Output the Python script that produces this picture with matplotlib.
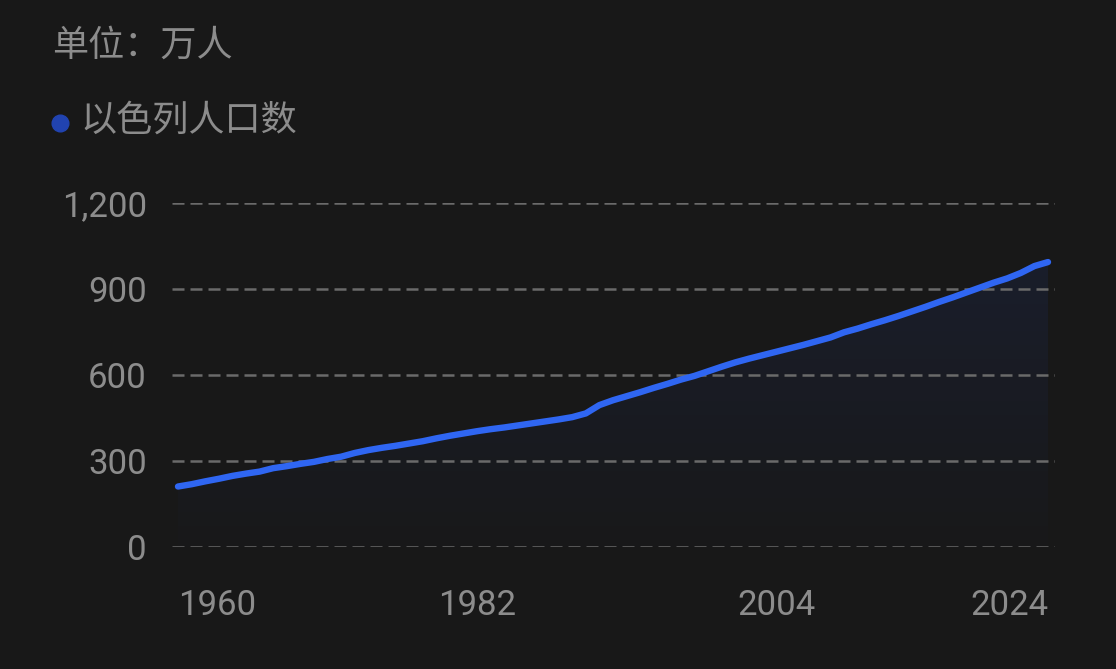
import numpy as np
import matplotlib
matplotlib.use('Agg')
import matplotlib.pyplot as plt
from matplotlib.lines import Line2D

plt.rcParams['font.family'] = ['Roboto', 'Noto Sans CJK SC', 'DejaVu Sans']

# Israel population, unit: 10k persons
years = np.arange(1960, 2025)
population = [211, 219, 229, 238, 248, 256, 263, 275, 282, 290,
              297, 307, 315, 328, 338, 346, 353, 361, 369, 379,
              388, 396, 404, 411, 417, 424, 431, 438, 445, 453,
              466, 495, 512, 526, 540, 555, 569, 584, 597, 613,
              629, 644, 657, 669, 681, 693, 705, 718, 731, 749,
              762, 777, 791, 806, 822, 838, 855, 871, 888, 905,
              922, 937, 956, 980, 994]
y_ticks = [0, 300, 600, 900, 1200]
x_ticks = [1960, 1982, 2004, 2024]
unit_label = '单位：万人'
series_name = '以色列人口数'

bg = '#181818'
txt = '#8c8c8c'
line_c = '#2f66f2'

fig = plt.figure(figsize=(11.16, 6.69), dpi=100, facecolor=bg)
ax = fig.add_axes([172/1116, 1-547/669, (1055-172)/1116, (547-203)/669])
ax.set_facecolor(bg)

# gradient area under the line (stronger at top, fading to the bottom)
poly = ax.fill_between(years, population, 0, color='none', lw=0)
grad = np.zeros((256, 1, 4))
grad[..., 0], grad[..., 1], grad[..., 2] = 0.18, 0.36, 0.95
grad[:, 0, 3] = np.linspace(0.09, 0.01, 256)
top = max(population)
im = ax.imshow(grad, aspect='auto', extent=[years[0], years[-1], 0, top],
               origin='upper', zorder=1, interpolation='bilinear')
im.set_clip_path(poly.get_paths()[0], transform=ax.transData)

ax.plot(years, population, color=line_c, lw=4.6, solid_capstyle='round',
        solid_joinstyle='round', zorder=3, clip_on=False)

for t in y_ticks:
    ax.axhline(t, color='#6a6a6a', lw=1.8, linestyle=(0, (4.8, 2.4)), zorder=2)

ax.set_xlim(1960 - 6/13.594, 2024 + 7/13.594)
ax.set_ylim(0, 1200)
ax.set_yticks(y_ticks)
ax.set_yticklabels(['{:,}'.format(t) for t in y_ticks])
ax.set_xticks(x_ticks)
ax.set_xticklabels([str(t) for t in x_ticks])
xl = ax.get_xticklabels()
xl[0].set_ha('left')
xl[-1].set_ha('right')
ax.tick_params(axis='y', length=0, pad=18, labelsize=25, labelcolor=txt)
ax.tick_params(axis='x', length=0, pad=30, labelsize=25, labelcolor=txt)
for s in ax.spines.values():
    s.set_visible(False)

fig.text(52/1116, 1-46/669, unit_label, color=txt, fontsize=26,
         family=['Noto Sans CJK SC', 'DejaVu Sans'], ha='left', va='center')
fig.add_artist(Line2D([60/1116], [1-123/669], marker='o', markersize=12,
                      color='#2143b0', transform=fig.transFigure))
fig.text(80/1116, 1-121/669, series_name, color=txt, fontsize=26,
         family=['Noto Sans CJK SC', 'DejaVu Sans'], ha='left', va='center')

fig.savefig('out.png', dpi=100, facecolor=bg)
